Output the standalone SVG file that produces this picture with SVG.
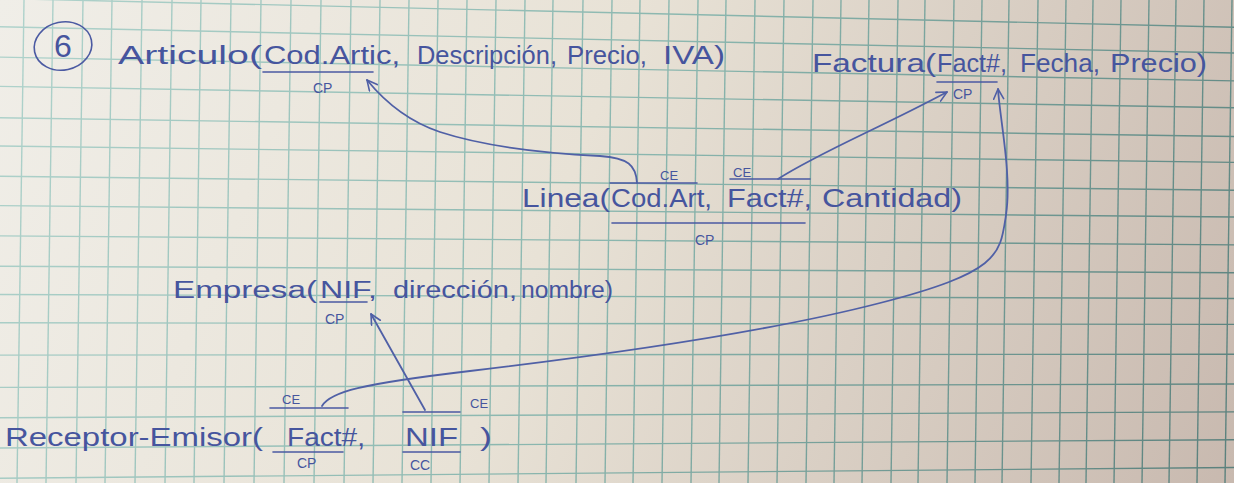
<svg xmlns="http://www.w3.org/2000/svg" width="1234" height="483" viewBox="0 0 1234 483">
<defs>
<linearGradient id="paper" x1="0" y1="0" x2="1234" y2="483" gradientUnits="userSpaceOnUse">
<stop offset="0" stop-color="#f0eee8"/>
<stop offset="0.45" stop-color="#e8e2d6"/>
<stop offset="1" stop-color="#c8b9af"/>
</linearGradient>
<linearGradient id="gridc" x1="0" y1="0" x2="1234" y2="483" gradientUnits="userSpaceOnUse">
<stop offset="0" stop-color="#b0d3cc"/>
<stop offset="0.5" stop-color="#8ab6ae"/>
<stop offset="1" stop-color="#5a807c"/>
</linearGradient>
<marker id="arr" viewBox="0 0 12 12" refX="11" refY="6" markerWidth="12" markerHeight="12" markerUnits="userSpaceOnUse" orient="auto">
<path d="M1,1 L11,6 L1,11" fill="none" stroke="#4f5fa6" stroke-width="1.6" stroke-linecap="round" stroke-linejoin="round"/>
</marker>
<style>
.g line{stroke:url(#gridc);stroke-width:1.4}
.t{font-family:"Liberation Sans","DejaVu Sans",sans-serif;fill:#46559e;font-size:26px}
.e{font-size:23px}
.n{font-size:32px}
.s{font-family:"Liberation Sans","DejaVu Sans",sans-serif;fill:#46559e;font-size:14px}
.sm{font-size:13px}
.k{stroke:#4b5aa2;stroke-width:1.6;fill:none;stroke-linecap:round}
.c{stroke:#5060a6;stroke-width:1.8;fill:none;stroke-linecap:round;marker-end:url(#arr)}
</style>
</defs>
<rect width="1234" height="483" fill="url(#paper)"/>
<g class="g" id="grid">
<line x1="24" y1="0" x2="17" y2="483"/><line x1="53" y1="0" x2="46" y2="483"/><line x1="83" y1="0" x2="76" y2="483"/><line x1="112" y1="0" x2="105" y2="483"/><line x1="142" y1="0" x2="135" y2="483"/><line x1="172" y1="0" x2="165" y2="483"/><line x1="201" y1="0" x2="194" y2="483"/><line x1="231" y1="0" x2="224" y2="483"/><line x1="261" y1="0" x2="254" y2="483"/><line x1="291" y1="0" x2="284" y2="483"/><line x1="321" y1="0" x2="314" y2="483"/><line x1="351" y1="0" x2="344" y2="483"/><line x1="380" y1="0" x2="373" y2="483"/><line x1="409" y1="0" x2="402" y2="483"/><line x1="438" y1="0" x2="431" y2="483"/><line x1="467" y1="0" x2="460" y2="483"/><line x1="496" y1="0" x2="489" y2="483"/><line x1="525" y1="0" x2="518" y2="483"/><line x1="553" y1="0" x2="546" y2="483"/><line x1="583" y1="0" x2="576" y2="483"/><line x1="612" y1="0" x2="605" y2="483"/><line x1="640" y1="0" x2="633" y2="483"/><line x1="669" y1="0" x2="662" y2="483"/><line x1="698" y1="0" x2="691" y2="483"/><line x1="726" y1="0" x2="719" y2="483"/><line x1="755" y1="0" x2="748" y2="483"/><line x1="784" y1="0" x2="777" y2="483"/><line x1="813" y1="0" x2="806" y2="483"/><line x1="841" y1="0" x2="834" y2="483"/><line x1="869" y1="0" x2="862" y2="483"/><line x1="898" y1="0" x2="891" y2="483"/><line x1="925" y1="0" x2="918" y2="483"/><line x1="954" y1="0" x2="947" y2="483"/><line x1="982" y1="0" x2="975" y2="483"/><line x1="1009" y1="0" x2="1002" y2="483"/><line x1="1038" y1="0" x2="1031" y2="483"/><line x1="1066" y1="0" x2="1059" y2="483"/><line x1="1093" y1="0" x2="1086" y2="483"/><line x1="1121" y1="0" x2="1114" y2="483"/><line x1="1149" y1="0" x2="1142" y2="483"/><line x1="1176" y1="0" x2="1169" y2="483"/><line x1="1204" y1="0" x2="1197" y2="483"/><line x1="1232" y1="0" x2="1225" y2="483"/>
<line x1="0" y1="-1.5" x2="1234" y2="27.2"/><line x1="0" y1="26.8" x2="1234" y2="53"/><line x1="0" y1="57.1" x2="1234" y2="80.9"/><line x1="0" y1="86.4" x2="1234" y2="107.7"/><line x1="0" y1="117.7" x2="1234" y2="136.5"/><line x1="0" y1="146" x2="1234" y2="162.4"/><line x1="0" y1="176.3" x2="1234" y2="190.2"/><line x1="0" y1="205.6" x2="1234" y2="217"/><line x1="0" y1="235.9" x2="1234" y2="244.9"/><line x1="0" y1="266.2" x2="1234" y2="272.7"/><line x1="0" y1="294.5" x2="1234" y2="298.5"/><line x1="0" y1="322.8" x2="1234" y2="324.4"/><line x1="0" y1="355.1" x2="1234" y2="354.2"/><line x1="0" y1="387.4" x2="1234" y2="384"/><line x1="0" y1="417.7" x2="1234" y2="411.9"/><line x1="0" y1="448" x2="1234" y2="439.7"/><line x1="0" y1="478.3" x2="1234" y2="467.5"/>
</g>
<g id="badge-6">
<ellipse cx="63" cy="46" rx="29" ry="24" transform="rotate(-12 63 46)" class="k"/>
<text class="t n" x="63" y="57" text-anchor="middle">6</text>
</g>
<g id="node-articulo">
<text class="t" x="118" y="64" textLength="144" lengthAdjust="spacingAndGlyphs">Articulo(</text>
<text class="t" x="264" y="64" textLength="136" lengthAdjust="spacingAndGlyphs">Cod.Artic,</text>
<text class="t" x="417" y="64" textLength="140" lengthAdjust="spacingAndGlyphs">Descripción,</text>
<text class="t" x="567" y="64" textLength="80" lengthAdjust="spacingAndGlyphs">Precio,</text>
<text class="t" x="663" y="64" textLength="62" lengthAdjust="spacingAndGlyphs">IVA)</text>
<line class="k" x1="263" y1="72" x2="373" y2="72"/>
<text class="s" x="313" y="93">CP</text>
</g>
<g id="node-factura">
<text class="t" x="812" y="72" textLength="124" lengthAdjust="spacingAndGlyphs">Factura(</text>
<text class="t" x="937" y="72" textLength="70" lengthAdjust="spacingAndGlyphs">Fact#,</text>
<text class="t" x="1020" y="72" textLength="80" lengthAdjust="spacingAndGlyphs">Fecha,</text>
<text class="t" x="1110" y="72" textLength="97" lengthAdjust="spacingAndGlyphs">Precio)</text>
<line class="k" x1="937" y1="82" x2="997" y2="82"/>
<text class="s" x="953" y="99">CP</text>
</g>
<g id="node-linea">
<text class="t" x="522" y="207" textLength="88" lengthAdjust="spacingAndGlyphs">Linea(</text>
<text class="t" x="611" y="207" textLength="101" lengthAdjust="spacingAndGlyphs">Cod.Art,</text>
<text class="t" x="727" y="207" textLength="85" lengthAdjust="spacingAndGlyphs">Fact#,</text>
<text class="t" x="822" y="207" textLength="140" lengthAdjust="spacingAndGlyphs">Cantidad)</text>
<line class="k" x1="612" y1="223" x2="805" y2="223"/>
<text class="s" x="695" y="245">CP</text>
<line class="k" x1="610" y1="183" x2="697" y2="183"/>
<text class="s sm" x="660" y="180">CE</text>
<line class="k" x1="730" y1="179" x2="810" y2="179"/>
<text class="s sm" x="733" y="177">CE</text>
</g>
<g id="node-empresa">
<text class="t e" x="173" y="298" textLength="144" lengthAdjust="spacingAndGlyphs">Empresa(</text>
<text class="t e" x="320" y="298" textLength="57" lengthAdjust="spacingAndGlyphs">NIF,</text>
<text class="t e" x="393" y="298" textLength="124" lengthAdjust="spacingAndGlyphs">dirección,</text>
<text class="t e" x="521" y="298" textLength="92" lengthAdjust="spacingAndGlyphs">nombre)</text>
<line class="k" x1="320" y1="302" x2="367" y2="302"/>
<text class="s" x="325" y="324">CP</text>
</g>
<g id="node-receptor-emisor">
<text class="t" x="5" y="446" textLength="258" lengthAdjust="spacingAndGlyphs">Receptor-Emisor(</text>
<text class="t" x="287" y="446" textLength="78" lengthAdjust="spacingAndGlyphs">Fact#,</text>
<text class="t" x="405" y="446" textLength="53" lengthAdjust="spacingAndGlyphs">NIF</text>
<text class="t" x="480" y="446" textLength="12" lengthAdjust="spacingAndGlyphs">)</text>
<line class="k" x1="273" y1="452" x2="343" y2="452"/>
<text class="s" x="297" y="468">CP</text>
<line class="k" x1="403" y1="452" x2="460" y2="452"/>
<text class="s" x="410" y="470">CC</text>
<line class="k" x1="270" y1="408" x2="348" y2="408"/>
<text class="s sm" x="282" y="404">CE</text>
<line class="k" x1="403" y1="412" x2="460" y2="412"/>
<text class="s sm" x="470" y="408">CE</text>
</g>
<g id="connectors">
<path class="c" d="M637,183 C636,165 628,158 600,156 C540,153 480,145 440,132 C410,122 385,102 367,80"/>
<path class="c" d="M778,179 C820,152 880,128 947,92"/>
<path class="c" d="M322,406 C330,392 360,384 470,371 S760,334 880,303 S1000,255 1006,215 S1000,120 998,89"/>
<path class="c" d="M425,410 L371,314"/>
</g>
</svg>
